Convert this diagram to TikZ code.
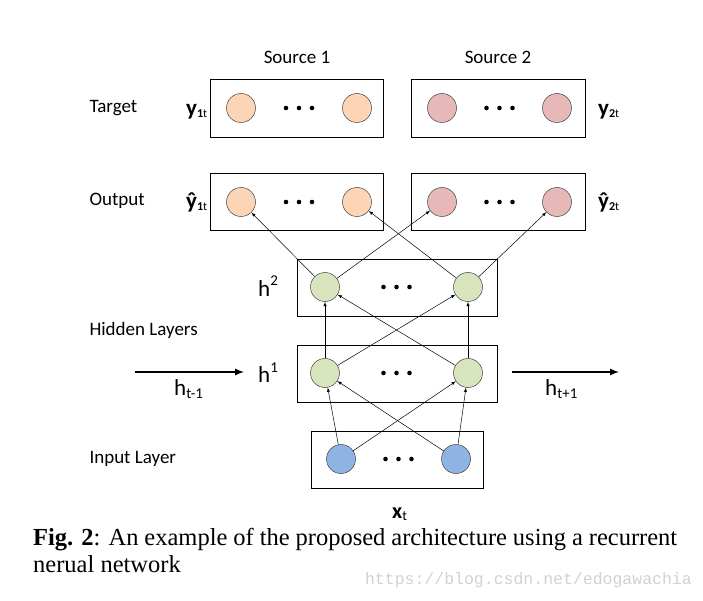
\documentclass[tikz,border=0pt]{standalone}
\usepackage{fontspec}
\usetikzlibrary{calc}
\setmainfont{Carlito}
\newfontfamily\captionfont{Liberation Serif}
\newfontfamily\markfont{Liberation Mono}

\definecolor{peach}{HTML}{FBD5B5}
\definecolor{rose}{HTML}{E6B9B8}
\definecolor{sage}{HTML}{D7E4BD}
\definecolor{sky}{HTML}{8EB4E3}

\tikzset{
	layer/.style = {draw, line width = 0.8pt, inner sep = 0pt},
	unit/.style = {circle, draw = black!75, line width = 0.5pt, minimum size = 29pt, inner sep = 0pt},
	link/.style = {->, line width = 0.5pt},
	flow/.style = {->, line width = 2pt},
	symbol/.style = {anchor = base west, inner sep = 0pt, font = \fontsize{23}{25}\selectfont\bfseries},
	biglabel/.style = {anchor = base west, inner sep = 0pt, font = \fontsize{23}{25}\selectfont}
}

% shifted index: shift (pt), size (pt), text
\newcommand{\idx}[3]{\raisebox{#1pt}{\fontsize{#2}{#2}\selectfont #3}}

\newcommand{\unitdots}[1]{%
	\foreach \d in {-13, 0, 13}
		\fill ([xshift = \d pt] #1) circle (2.3pt);
}

\begin{document}
\begin{tikzpicture}[> = latex, x = 1pt, y = -1pt, font = \fontsize{19}{22}\selectfont]

	\useasboundingbox (0, 0) rectangle (703, 601);

	% Layer boxes

	\node [layer, minimum width = 173pt, minimum height = 58pt] (target1) at (296.5, 108) {};
	\node [layer, minimum width = 174pt, minimum height = 58pt] (target2) at (498, 108) {};
	\node [layer, minimum width = 173pt, minimum height = 57pt] (output1) at (296.5, 201.5) {};
	\node [layer, minimum width = 174pt, minimum height = 57pt] (output2) at (498, 201.5) {};
	\node [layer, minimum width = 200pt, minimum height = 57pt] (hidden2) at (397, 287.5) {};
	\node [layer, minimum width = 200pt, minimum height = 57pt] (hidden1) at (397, 373.5) {};
	\node [layer, minimum width = 172pt, minimum height = 57pt] (input) at (397, 459.5) {};

	% Units

	\begin{scope}[every node/.append style = {unit}]

		\node [fill = peach] (t1a) at (241, 108) {};
		\node [fill = peach] (t1b) at (357, 108) {};
		\node [fill = rose] (t2a) at (442, 108) {};
		\node [fill = rose] (t2b) at (557, 108) {};

		\node [fill = peach] (o1a) at (241, 202) {};
		\node [fill = peach] (o1b) at (357, 202) {};
		\node [fill = rose] (o2a) at (442, 202) {};
		\node [fill = rose] (o2b) at (557, 202) {};

		\node [fill = sage] (h2a) at (325, 287) {};
		\node [fill = sage] (h2b) at (468, 287) {};
		\node [fill = sage] (h1a) at (325, 373) {};
		\node [fill = sage] (h1b) at (468, 373) {};

		\node [fill = sky] (x1) at (341, 459) {};
		\node [fill = sky] (x2) at (456, 459) {};

	\end{scope}

	% Dots between units

	\unitdots{$(t1a)!0.5!(t1b)$}
	\unitdots{$(t2a)!0.5!(t2b)$}
	\unitdots{$(o1a)!0.5!(o1b)$}
	\unitdots{$(o2a)!0.5!(o2b)$}
	\unitdots{$(h2a)!0.5!(h2b)$}
	\unitdots{$(h1a)!0.5!(h1b)$}
	\unitdots{$(x1)!0.5!(x2)$}

	% Connections

	\foreach \a/\b in {x1/h1a, x1/h1b, x2/h1a, x2/h1b,
		h1a/h2a, h1a/h2b, h1b/h2a, h1b/h2b,
		h2a/o1a, h2a/o2a, h2b/o1b, h2b/o2b}
		\draw [link] (\a) -- (\b);

	% Recurrent state

	\coordinate (prevstart) at (135, 372);
	\coordinate (prevend) at (244, 372);
	\coordinate (nextstart) at (512, 372);
	\coordinate (nextend) at (619, 372);

	\draw [flow] (prevstart) -- (prevend);
	\draw [flow] (nextstart) -- (nextend);

	\node [biglabel] (hprev) at (174, 395) {h\idx{-3}{15}{t-1}};
	\node [biglabel] (hnext) at (545, 395) {h\idx{-3}{15}{t+1}};

	% Labels

	\node (source1) at (297, 57) {Source 1};
	\node (source2) at (498, 57) {Source 2};

	\node [anchor = west] (targetlabel) at (86, 108) {Target};
	\node [anchor = west] (outputlabel) at (86, 201) {Output};
	\node [anchor = west] (hiddenlabel) at (86, 330) {Hidden Layers};
	\node [anchor = west] (inputlabel) at (86, 459) {Input Layer};

	\node [symbol] (y1) at (186, 116) {y\idx{-2}{12}{1\mdseries t}};
	\node [symbol] (y2) at (598, 116) {y\idx{-2}{12}{2\mdseries t}};
	\node [symbol] (yhat1) at (186, 209) {ŷ\idx{-2}{12}{1\mdseries t}};
	\node [symbol] (yhat2) at (598, 209) {ŷ\idx{-2}{12}{2\mdseries t}};

	\node [biglabel] (h2label) at (258, 296) {h\idx{10}{15}{2}};
	\node [biglabel] (h1label) at (258, 382) {h\idx{10}{15}{1}};

	\node [symbol, font = \fontsize{22}{24}\selectfont\bfseries] (xlabel) at (392, 518) {x\idx{-2}{14}{\mdseries t}};

	% Caption

	\node [anchor = base west, inner sep = 0pt] (caption1) at (33, 545)
		{\captionfont\fontsize{24.5}{27}\selectfont\makebox[644pt][s]{\textbf{Fig. 2}: An example of the proposed architecture using a recurrent}};
	\node [anchor = base west, inner sep = 0pt] (caption2) at (33, 572)
		{\captionfont\fontsize{24.5}{27}\selectfont nerual network};

	\node [anchor = east, inner sep = 0pt, text = black!18] (watermark) at (692, 580)
		{\markfont\fontsize{16.5}{18}\selectfont https://blog.csdn.net/edogawachia};

\end{tikzpicture}
\end{document}
